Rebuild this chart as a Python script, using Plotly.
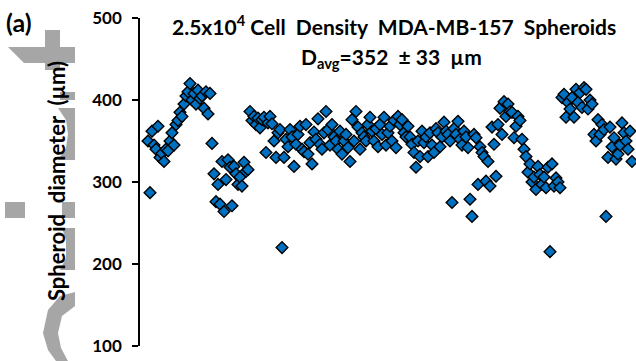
import plotly.graph_objects as go

# Spheroid diameters (µm), in measurement order
seg1 = [350, 287, 362, 345, 340, 368, 330, 335, 325, 340, 338, 350, 360, 345, 370, 375, 385, 380, 395, 405,
        410, 420, 400, 408, 395, 412, 402, 405, 390, 410, 383, 408, 347]
seg2 = [310, 276, 297, 273, 325, 264, 303, 327, 318, 271, 319, 310, 297, 306, 295, 324, 313, 315]
seg3 = [386, 375, 380, 370, 378, 366, 376, 379, 336, 372, 380, 371, 350, 330, 360, 364, 220, 330, 352, 343,
        364, 355, 319, 346, 358, 368, 340, 337]
seg4 = [370, 334, 348, 322, 361, 352, 377, 346, 340, 360, 386, 364, 345, 370, 355, 350, 340, 362, 334, 350,
        358, 342, 325, 376, 350, 386, 367, 340, 360, 355, 350, 370, 379, 362, 350, 365, 343, 370, 358, 379, 345]
seg5 = [360, 368, 350, 375, 342, 380, 370, 376, 360, 355, 368, 355, 346, 336, 318, 350, 331, 362, 348, 355,
        331, 360, 345, 336, 365, 360, 343, 355, 373, 362, 358, 350, 275, 365, 358, 374, 352, 345, 362, 355, 342]
seg6 = [279, 258, 358, 354, 297, 343, 336, 331, 301, 325, 295, 367, 346, 307, 370, 390, 358, 398, 380, 395,
        386, 385, 354, 368, 380, 375, 352, 340, 331, 312, 322, 300, 306, 291, 319, 309, 297, 306, 293, 318,
        215, 322, 295, 305, 300, 293]
seg7 = [403, 407, 379, 397, 389, 403, 379, 413, 397, 409, 391, 415, 413, 389, 400, 395, 358, 350, 376, 358,
        370, 364, 258, 330, 367, 343, 354, 328, 334, 345, 372, 360, 350, 340, 362, 325]
diameters = seg1 + seg2 + seg3 + seg4 + seg5 + seg6 + seg7
sample_index = list(range(len(diameters)))

y_ticks = [100, 200, 300, 400, 500]

FONT = "Lato"
fig = go.Figure()
fig.add_trace(go.Scatter(
    x=sample_index, y=diameters, mode="markers",
    marker=dict(symbol="diamond", size=9, color="#0070C0",
                line=dict(color="black", width=1.4)),
    showlegend=False, hoverinfo="skip"))

L, R, T, B = 140, 0, 18, 15
W, H = 636, 361
PW, PH = W - L - R, H - T - B


def px(x, y):
    return (x - L) / PW, (H - B - y) / PH


gray = "#a6a6a6"
shapes = []


def poly(points):
    pts = [px(a, b) for a, b in points]
    path = "M " + " L ".join(f"{a:.4f},{b:.4f}" for a, b in pts) + " Z"
    shapes.append(dict(type="path", xref="paper", yref="paper", path=path,
                       fillcolor=gray, line=dict(width=0), layer="below"))


# decorative gray background marks at left
poly([(45, 30), (60, 30), (60, 70), (45, 70)])
poly([(8, 47), (75, 47), (75, 63), (24, 63)])
poly([(5, 202), (25, 202), (25, 218), (5, 218)])
poly([(62, 202), (75, 202), (75, 218), (62, 218)])
poly([(58, 108), (75, 108), (75, 160), (58, 160), (66, 148), (68, 134), (66, 120)])
poly([(60, 92), (75, 92), (75, 100), (60, 100)])
poly([(62, 228), (75, 228), (75, 270), (60, 270), (66, 258), (66, 240)])
poly([(75, 292), (60, 296), (48, 310), (43, 333), (48, 350), (56, 361), (68, 361),
      (61, 348), (58, 333), (62, 316), (75, 306)])

SP = "&nbsp;&nbsp;"
annotations = [
    dict(text="<b>(a)</b>", x=px(4, 0)[0], y=px(0, 22)[1], xref="paper", yref="paper",
         xanchor="left", yanchor="middle", showarrow=False,
         font=dict(family=FONT, size=25, color="black")),
    dict(text=f"<b>2.5x10<sup>4</sup> Cell{SP}Density{SP}MDA-MB-157{SP}Spheroids</b>",
         x=px(394, 0)[0], y=px(0, 25)[1], xref="paper", yref="paper",
         xanchor="center", yanchor="middle", showarrow=False,
         font=dict(family=FONT, size=21, color="black")),
    dict(text=f"<b>D<sub>avg</sub>=352{SP}± 33{SP}µm</b>",
         x=px(391, 0)[0], y=px(0, 58)[1], xref="paper", yref="paper",
         xanchor="center", yanchor="middle", showarrow=False,
         font=dict(family=FONT, size=21, color="black")),
    dict(text=f"<b>Spheroid{SP}diameter{SP}(µm)</b>",
         x=px(56, 0)[0], y=px(0, 181)[1], xref="paper", yref="paper",
         xanchor="center", yanchor="middle", showarrow=False, textangle=-90,
         font=dict(family=FONT, size=22, color="black")),
]

fig.update_layout(
    width=W, height=H,
    margin=dict(l=L, r=R, t=T, b=B),
    paper_bgcolor="white", plot_bgcolor="rgba(0,0,0,0)",
    xaxis=dict(visible=False, range=[-4, 244]),
    yaxis=dict(range=[100, 500], tickvals=y_ticks, ticks="outside", ticklen=6,
               tickwidth=1.5, tickcolor="black", showline=True, linecolor="black",
               linewidth=1.5, showgrid=False, zeroline=False,
               tickfont=dict(family=FONT, size=17, color="black", weight="bold"),
               ticklabelstandoff=7),
    shapes=shapes,
    annotations=annotations,
)

fig.write_html("out.html")
